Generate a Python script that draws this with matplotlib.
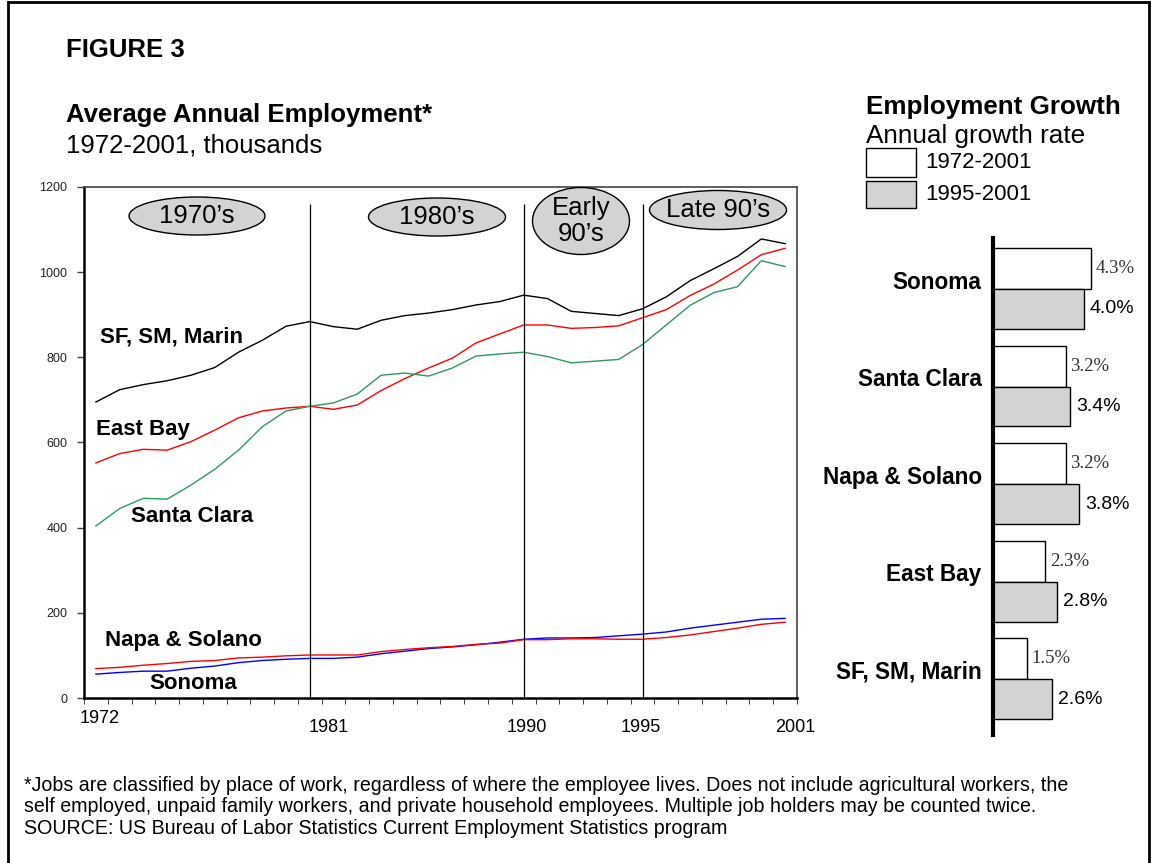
import matplotlib
matplotlib.use("Agg")

import matplotlib.pyplot as plt
from matplotlib.patches import Ellipse, Rectangle

plt.rcParams["font.family"] = ["Liberation Sans", "DejaVu Sans"]

# employment, thousands
years = list(range(1972, 2002))
sf_sm_marin = [695, 724, 736, 745, 758, 776, 812, 840, 873, 884, 872, 866, 887, 898, 904,
               912, 923, 931, 946, 938, 908, 903, 898, 914, 942, 980, 1008, 1037, 1078, 1067]
east_bay = [552, 574, 584, 582, 602, 629, 658, 674, 681, 685, 678, 688, 722, 750, 775,
            798, 834, 855, 876, 876, 868, 870, 874, 893, 912, 945, 972, 1005, 1041, 1056]
santa_clara = [404, 445, 469, 467, 500, 537, 582, 637, 674, 685, 693, 714, 758, 763, 756,
               775, 803, 808, 812, 802, 787, 791, 795, 830, 876, 922, 952, 966, 1027, 1013]
napa_solano = [69, 72, 77, 81, 86, 88, 94, 96, 99, 101, 101, 101, 109, 114, 118,
               121, 126, 129, 137, 137, 139, 139, 138, 138, 142, 148, 156, 164, 173, 178]
sonoma = [56, 60, 63, 63, 70, 75, 83, 88, 91, 93, 93, 96, 104, 110, 116,
          120, 125, 131, 138, 141, 141, 142, 146, 150, 155, 164, 171, 178, 185, 187]

era_breaks = [1981, 1990, 1995]
era_labels = ["1970\u2019s", "1980\u2019s", "Early\n90\u2019s", "Late 90\u2019s"]
x_labels = ["1972", "1981", "1990", "1995", "2001"]

# growth rates, percent
regions = ["Sonoma", "Santa Clara", "Napa & Solano", "East Bay", "SF, SM, Marin"]
growth_7201 = [4.3, 3.2, 3.2, 2.3, 1.5]
growth_9501 = [4.0, 3.4, 3.8, 2.8, 2.6]

W, H = 1151, 863
GRAY = "#d3d3d3"


def fx(px):
    return px / W


def fy(py):
    return 1 - py / H


fig = plt.figure(figsize=(W / 100, H / 100), dpi=100)
fig.patches.append(Rectangle((fx(8), fy(880)), fx(1149) - fx(8), fy(2) - fy(880),
                             transform=fig.transFigure, fill=False, edgecolor="black", lw=2))

# ---- line chart
ax = fig.add_axes([fx(84), fy(698), 713 / W, 511 / H])
ax.set_xlim(1971.5, 2001.5)
ax.set_ylim(0, 1200)

ax.plot(years, sf_sm_marin, color="black", lw=1)
ax.plot(years, east_bay, color="red", lw=1)
ax.plot(years, santa_clara, color="#2e9a5c", lw=1)
ax.plot(years, sonoma, color="blue", lw=1)
ax.plot(years, napa_solano, color="red", lw=1)

ax.vlines(era_breaks, 0, 1160, color="black", lw=0.9)

ax.set_yticks(range(0, 1201, 200))
ax.tick_params(axis="y", direction="out", length=5, width=1, color="#444", pad=7,
               labelsize=9, labelcolor="#222")
ax.set_xticks([])
ax.set_xticks([y - 0.5 for y in years] + [2001.5], minor=True)
ax.tick_params(axis="x", which="minor", direction="out", length=4, color="#222")
for side in ["left", "bottom"]:
    ax.spines[side].set_linewidth(1.8)
for side in ["top", "right"]:
    ax.spines[side].set_color("#444")
    ax.spines[side].set_linewidth(1.2)

ell_px = [(197, 216, 136, 38), (437, 217, 137, 38), (581, 221, 97, 67), (718, 210, 137, 39)]
for (cx, cy, w, h), lab in zip(ell_px, era_labels):
    ex, ey = (cx - 84) / 713, (698 - cy) / 511
    ax.add_patch(Ellipse((ex, ey), w / 713, h / 511, transform=ax.transAxes,
                         facecolor=GRAY, edgecolor="black", lw=1, clip_on=False, zorder=3))
    ax.text(ex, ey, lab, transform=ax.transAxes, ha="center", va="center",
            fontsize=18.5, linespacing=1.15, zorder=4)

series_labels = [("SF, SM, Marin", 100, 337), ("East Bay", 96, 430), ("Santa Clara", 131, 516),
                 ("Napa & Solano", 105, 640), ("Sonoma", 149, 683)]
for lab, px, py in series_labels:
    fig.text(fx(px), fy(py), lab, ha="left", va="center", fontsize=16, fontweight="bold")

for lab, px, py in zip(x_labels, [100, 329, 527, 641, 795], [718, 727, 727, 727, 727]):
    fig.text(fx(px), fy(py), lab, ha="center", va="center", fontsize=13)

# ---- titles
fig.text(fx(66), fy(50), "FIGURE 3", ha="left", va="center", fontsize=18.5, fontweight="bold")
fig.text(fx(66), fy(115), "Average Annual Employment*", ha="left", va="center",
         fontsize=18.5, fontweight="bold")
fig.text(fx(66), fy(145), "1972-2001, thousands", ha="left", va="center", fontsize=18.5)

fig.text(fx(866), fy(107), "Employment Growth", ha="left", va="center", fontsize=18.7,
         fontweight="bold")
fig.text(fx(866), fy(136), "Annual growth rate", ha="left", va="center", fontsize=18.8)
for (top, bot), fc, lab in zip([(148, 177), (181, 208)], ["white", GRAY], ["1972-2001", "1995-2001"]):
    fig.patches.append(Rectangle((fx(866), fy(bot)), 50 / W, (bot - top) / H,
                                 transform=fig.transFigure, facecolor=fc, edgecolor="black", lw=1))
    fig.text(fx(925), fy((top + bot) / 2), lab, ha="left", va="center", fontsize=16)

# ---- growth bars
bax = fig.add_axes([fx(993), fy(735), 157 / W, 497 / H])
bax.set_xlim(0, 157 / 22.7)
bax.set_ylim(4.574, -0.523)
pos = list(range(len(regions)))
bax.barh([p - 0.21 for p in pos], growth_7201, height=0.42, color="white",
         edgecolor="black", lw=1)
bax.barh([p + 0.205 for p in pos], growth_9501, height=0.41, color=GRAY,
         edgecolor="black", lw=1)
for p, name, a, b in zip(pos, regions, growth_7201, growth_9501):
    bax.text(-0.5, p - 0.07, name, ha="right", va="center", fontsize=16.3, fontweight="bold")
    bax.text(a + 0.2, p - 0.21, f"{a:.1f}%", ha="left", va="center", fontsize=13.5,
             family="Liberation Serif", color="#333")
    bax.text(b + 0.27, p + 0.205, f"{b:.1f}%", ha="left", va="center", fontsize=14)
bax.set_xticks([])
bax.set_yticks([])
for side in ["top", "right", "bottom"]:
    bax.spines[side].set_visible(False)
bax.spines["left"].set_linewidth(3)

# ---- footnote
notes = [
    "*Jobs are classified by place of work, regardless of where the employee lives. Does not include agricultural workers, the",
    "self employed, unpaid family workers, and private household employees. Multiple job holders may be counted twice.",
    "SOURCE: US Bureau of Labor Statistics Current Employment Statistics program",
]
for line, py in zip(notes, [785, 806, 828]):
    fig.text(fx(24), fy(py), line, ha="left", va="center", fontsize=14.1)

fig.savefig("out.png", dpi=100)
